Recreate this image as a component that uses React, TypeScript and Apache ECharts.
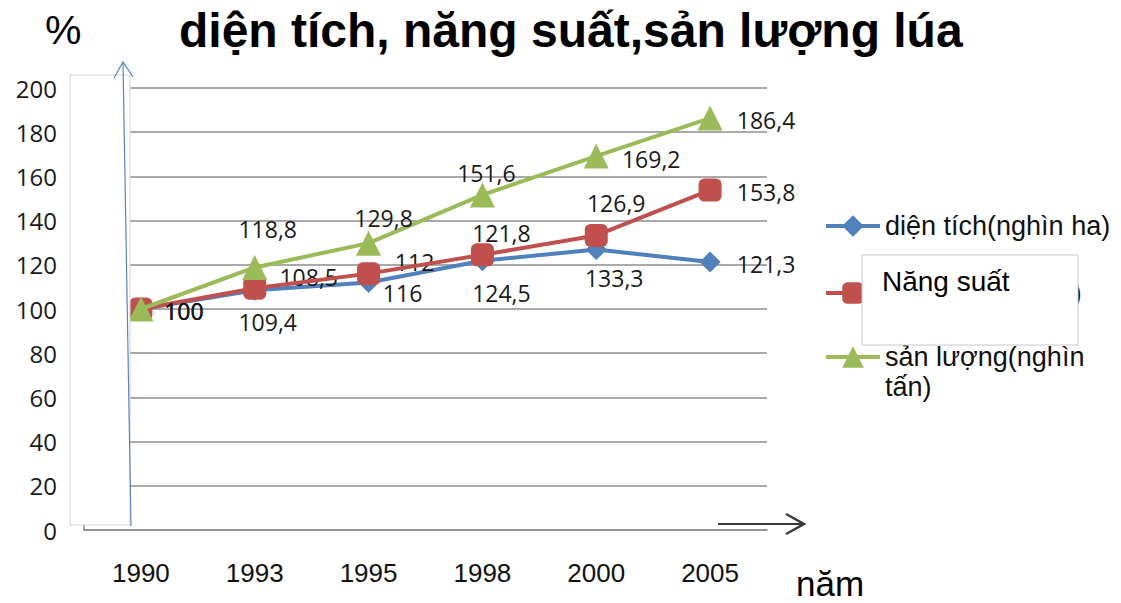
import React, { useEffect, useRef } from "react";
import * as echarts from "echarts";

const years = ["1990", "1993", "1995", "1998", "2000", "2005"];
const dienTich = [100, 108.5, 112, 121.8, 126.9, 121.3];
const nangSuat = [100, 109.4, 116, 124.5, 133.3, 153.8];
const sanLuong = [100, 118.8, 129.8, 151.6, 169.2, 186.4];
const yTicks = { min: 0, max: 200, interval: 20 };

const nameDT = "diện tích(nghìn ha)";
const nameNS = "năng suất(tạ/ha)";
const nameSL = "sản lượng(nghìn tấn)";

// label offsets (style only)
const offDT = [[43, 2], [54, -13], [46, -20], [19, -28], [20, -47], [56, 2]];
const offNS = [[43, 2], [13, 34], [34, 19], [19, 38], [18, 43], [56, 2]];
const offSL = [[43, 2], [13, -38], [15, -25], [4, -22], [55, 3], [56, 2]];

const fmt = (v: number) => String(v).replace(".", ",");

const labelFont = {
  fontFamily: "Open Sans",
  fontSize: 23,
  color: "#1a1a1a",
};

function mkData(vals: number[], offs: number[][]) {
  return vals.map((v, i) => ({
    value: v,
    label: { show: true, position: "inside", offset: offs[i], formatter: fmt(v), ...labelFont },
  }));
}

export default function App() {
  const ref = useRef<HTMLDivElement>(null);
  useEffect(() => {
    const chart = echarts.init(ref.current!, null, { renderer: "svg" });
    const legendBase = {
      orient: "vertical",
      left: 824,
      padding: 0,
      itemWidth: 54,
      itemHeight: 27,
      selectedMode: false,
      lineStyle: { width: 4 },
      textStyle: { fontFamily: "Liberation Sans", fontSize: 27, color: "#111", lineHeight: 30 },
    };
    chart.setOption({
      animation: false,
      backgroundColor: "#fff",
      title: {
        text: "diện tích, năng suất,sản lượng lúa",
        left: 174,
        top: 1,
        textStyle: { fontFamily: "Liberation Sans", fontWeight: "bold", fontSize: 48, color: "#000" },
      },
      legend: [
        { ...legendBase, top: 211, data: [nameDT] },
        { ...legendBase, top: 278, data: [nameNS] },
        {
          ...legendBase,
          top: 312,
          data: [nameSL],
          formatter: () => "\nsản lượng(nghìn\ntấn)",
        },
      ],
      grid: { left: 84, right: 354, top: 88, bottom: 73, containLabel: false },
      xAxis: {
        type: "category",
        data: years,
        boundaryGap: true,
        axisLine: { show: true, lineStyle: { color: "#8c8c8c", width: 1.5 } },
        axisTick: { show: false },
        axisLabel: { margin: 30, fontFamily: "Liberation Sans", fontSize: 26, color: "#111" },
      },
      yAxis: {
        type: "value",
        min: yTicks.min,
        max: yTicks.max,
        interval: yTicks.interval,
        axisLine: { show: true, lineStyle: { color: "#8c8c8c", width: 1.5 } },
        axisTick: { show: false },
        splitLine: { show: true, lineStyle: { color: "#8c8c8c", width: 1.5 } },
        axisLabel: { margin: 27, fontFamily: "Open Sans", fontSize: 24, color: "#1a1a1a" },
      },
      series: [
        {
          name: nameDT,
          type: "line",
          data: mkData(dienTich, offDT),
          symbol: "diamond",
          symbolSize: 21,
          lineStyle: { color: "#4F81BD", width: 4 },
          itemStyle: { color: "#4F81BD" },
          z: 2,
        },
        {
          name: nameNS,
          type: "line",
          data: mkData(nangSuat, offNS),
          symbol: "roundRect",
          symbolSize: 23,
          lineStyle: { color: "#C0504D", width: 4 },
          itemStyle: { color: "#C0504D" },
          z: 3,
        },
        {
          name: nameSL,
          type: "line",
          data: mkData(sanLuong, offSL),
          symbol: "triangle",
          symbolSize: 25,
          lineStyle: { color: "#9BBB59", width: 4 },
          itemStyle: { color: "#9BBB59" },
          z: 4,
        },
      ],
      graphic: [
        {
          type: "rect",
          z: 100,
          shape: { x: 70, y: 75, width: 60, height: 450 },
          style: { fill: "#fff", stroke: "#d4d4d4", lineWidth: 1 },
        },
        {
          type: "line",
          z: 101,
          shape: { x1: 131, y1: 526, x2: 123, y2: 62 },
          style: { stroke: "#5b86c2", lineWidth: 1.2 },
        },
        {
          type: "polyline",
          z: 101,
          shape: { points: [[114, 78], [123, 62], [133, 77]] },
          style: { stroke: "#5b86c2", lineWidth: 1.2, fill: null },
        },
        {
          type: "line",
          z: 101,
          shape: { x1: 718, y1: 524, x2: 802, y2: 524 },
          style: { stroke: "#3a3a3a", lineWidth: 2 },
        },
        {
          type: "polyline",
          z: 101,
          shape: { points: [[786, 514], [804, 524], [786, 534]] },
          style: { stroke: "#3a3a3a", lineWidth: 2.5, fill: null },
        },
        {
          type: "text",
          z: 101,
          left: 45,
          top: 9,
          style: { text: "%", fontFamily: "Liberation Sans", fontSize: 41, fill: "#000" },
        },
        {
          type: "text",
          z: 101,
          left: 796,
          top: 566,
          style: { text: "năm", fontFamily: "Liberation Sans", fontSize: 35, fill: "#000" },
        },
        {
          type: "rect",
          z: 150,
          shape: { x: 862, y: 255, width: 216, height: 90 },
          style: { fill: "#fff", stroke: "#c8c8c8", lineWidth: 1 },
        },
        {
          type: "text",
          z: 151,
          left: 882,
          top: 267,
          style: { text: "Năng suất", fontFamily: "Liberation Sans", fontSize: 28, fill: "#000" },
        },
      ],
    });
    return () => chart.dispose();
  }, []);
  return (
    <div
      ref={ref}
      style={{ position: "fixed", left: 0, top: 0, width: 1121, height: 603 }}
    />
  );
}
